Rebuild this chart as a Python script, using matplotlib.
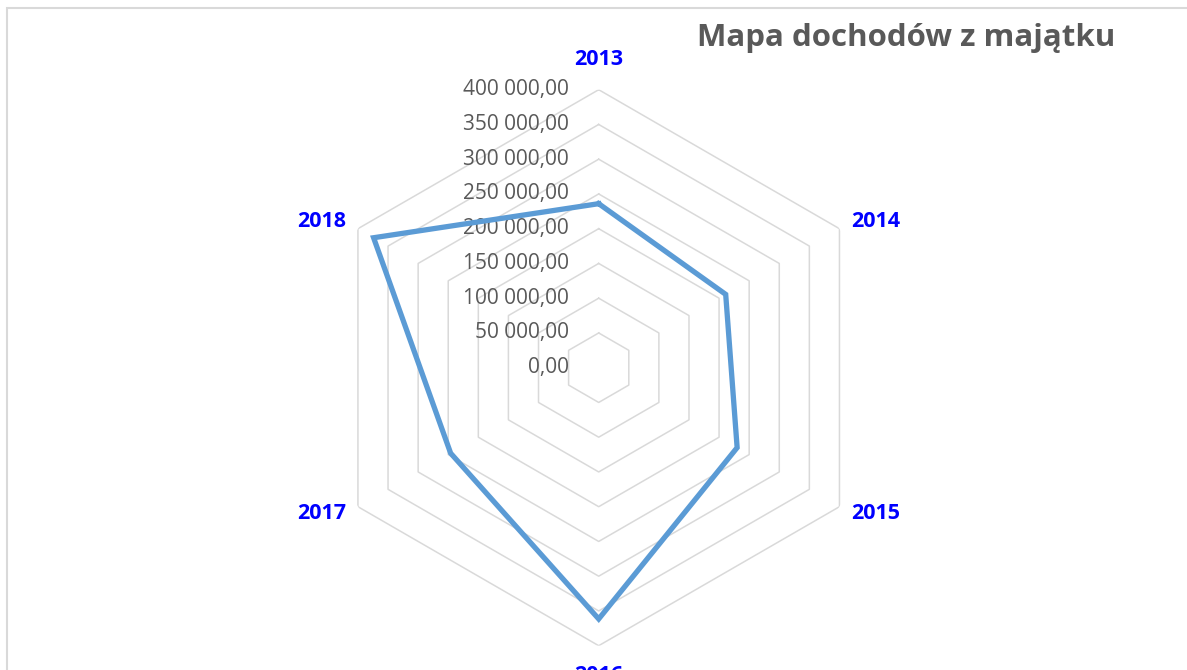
import numpy as np
import matplotlib.pyplot as plt
from matplotlib.patches import Rectangle
from matplotlib.transforms import offset_copy

# data
years = ['2013', '2014', '2015', '2016', '2017', '2018']
income = [236000, 211000, 230000, 361500, 246000, 374000]
ring_levels = [50000, 100000, 150000, 200000, 250000, 300000, 350000, 400000]
tick_values = [0, 50000, 100000, 150000, 200000, 250000, 300000, 350000, 400000]

title_color = '#595959'
grid_color = '#D9D9D9'
line_color = '#5B9BD5'
label_color = '#0000FF'

W, H = 1187, 670
fig = plt.figure(figsize=(W / 100, H / 100), dpi=100)

# chart area border (left and top edges visible)
fig.add_artist(Rectangle((7 / W, -0.2), 2, 1 - 8.3 / H + 0.2, transform=fig.transFigure,
                         fill=False, edgecolor=grid_color, lw=1.5))

cx, cy, R = 598.7, 367.7, 278
ax = fig.add_axes([(cx - R) / W, (H - cy - R) / H, 2 * R / W, 2 * R / H], projection='polar')
ax.set_theta_zero_location('N')
ax.set_theta_direction(-1)
ax.set_ylim(0, 400000)
ax.grid(False)
ax.spines['polar'].set_visible(False)
ax.set_xticks([])
ax.set_yticks([])
ax.patch.set_alpha(0)

theta = np.arange(len(years)) * 2 * np.pi / len(years)
theta_closed = np.append(theta, theta[0])

# hexagonal gridlines
for lv in ring_levels:
    ax.plot(theta_closed, [lv] * len(theta_closed), color=grid_color, lw=1.1, zorder=1)

# data series
vals = income + income[:1]
ax.plot(theta_closed, vals, color=line_color, lw=3.8, solid_joinstyle='miter', zorder=3)

# value axis labels
tick_tr = offset_copy(ax.transData, fig=fig, x=-30, y=0, units='dots')
for v in tick_values:
    lab = f'{v:,.2f}'.replace(',', ' ').replace('.', ',')
    ax.text(0, v, lab, transform=tick_tr, ha='right', va='center',
            fontsize=15, color=title_color, family='Open Sans', zorder=2)

# category labels
offsets = [(0, 30), (36, 7), (36, -7), (0, -30), (-36, -7), (-36, 7)]
for t, y, (dx, dy) in zip(theta, years, offsets):
    tr = offset_copy(ax.transData, fig=fig, x=dx, y=dy, units='dots')
    ax.text(t, 400000, y, transform=tr, ha='center', va='center', fontsize=15.5,
            fontweight='bold', color=label_color, family='Open Sans', clip_on=False)

fig.text(906 / W, 1 - 38 / H, 'Mapa dochodów z majątku', ha='center', va='center',
         fontsize=22.5, fontweight='bold', color=title_color, family='Open Sans')

fig.savefig('out.png', dpi=100)
